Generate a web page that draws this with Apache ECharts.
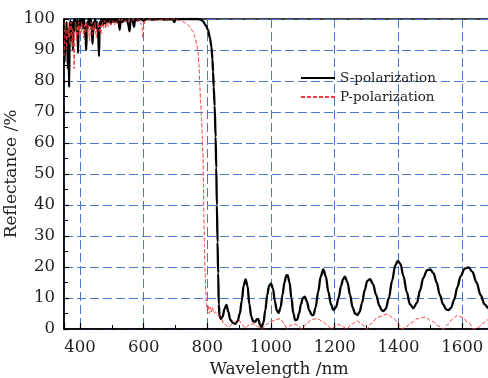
<!DOCTYPE html>
<html><head><meta charset="utf-8">
<script src="https://cdn.jsdelivr.net/npm/echarts@6/dist/echarts.min.js"></script>
<style>html,body{margin:0;padding:0;background:#fff}#c{width:488px;height:378px}</style>
</head><body><div id="c"></div>
<script>
// ---- data ----
const seriesNames = ['S-polarization', 'P-polarization'];
const yTicks = [0,10,20,30,40,50,60,70,80,90,100];

const sWave = [350,352,354,356,358,360,362,364,366,368,370,372,374,376,378,380,382,384,386,388,390,392,394,396,398,400,403,406,409,412,415,418,420,422,425,428,431,434,437,440,442,445,448,451,454,457,460,462,465,468,472,476,480,484,488,492,496,500,505,510,515,520,525,528,533,538,543,548,552,556,559,565,570,573,580,590,600,610,630,650,670,690,697,700,740,770,780,786,795,802,808,813,816,818,820,823,826,828,830,832,834,836,838,842,848,854,860,866,872,880,888,895,902,908,914,920,926,932,938,944,950,956,960,965,970,976,982,988,994,1000,1006,1012,1018,1024,1030,1036,1042,1048,1052,1058,1064,1070,1076,1082,1088,1094,1100,1106,1112,1120,1128,1133,1140,1148,1156,1164,1172,1180,1188,1196,1204,1212,1220,1226,1232,1240,1248,1256,1264,1271,1278,1286,1294,1302,1311,1320,1330,1340,1348,1353,1360,1370,1380,1390,1398,1406,1416,1426,1436,1447,1458,1468,1478,1490,1500,1510,1520,1530,1540,1550,1557,1565,1575,1585,1595,1608,1620,1632,1645,1658,1670,1682,1700];
const sRefl = [98,86,97,92,99,95,84,97,78,96,99.5,93,99,97,90,99.5,96,100,97,99,96,100,89,99,97,100,98,100,97,100,98,93,90,99,97,100,98,100,96,92,99,97,100,97,99,96,88,99,98,100,98,100,98.5,100,99,100,98.5,100,99,100,99,100,96.5,100,99,100,99.5,100,98,96,100,99.5,97.5,100,99.5,100,99.5,100,99.8,100,99.8,100,99,100,100,100,99.8,99.3,98,96.5,94,91,87,83,78,72,62,52,40,28,18,8,4.5,3.2,4,6.5,7.8,5.5,3,2,1.7,2.5,5,9,14,16,14,8,4,2.5,2.3,3.2,3.2,1.5,0.6,2,6,11,14,14.7,13,9,6,5.2,7,11,15,17.3,17.4,15,10,5,2.8,3,5,8,10,10.4,9,6,4.5,4.5,7,12,17,19.2,17,12,8,6.1,7,10,14,16,16.9,15,11,7,5,4.5,5.5,8.5,12.5,15.5,16.1,14.5,11,7.5,6,5.8,6.5,10,15.5,20.5,22,21,17,12,8,6.7,8.5,12.5,16.5,19,19.2,18,15,11,8,6.3,6.1,6.8,9.5,13.5,17,19.5,19.9,18.5,15,11,8,6.7,6];

const pWave = [350,352,354,356,358,360,362,364,366,368,370,372,374,376,378,380,382,384,386,388,390,392,394,396,398,400,403,406,409,412,415,418,421,424,427,430,433,436,439,442,445,448,451,454,457,460,463,466,470,474,478,482,486,490,494,498,503,508,513,518,523,528,533,540,546,552,558,565,572,580,588,594,598,601,605,615,630,650,670,690,705,715,725,735,745,755,762,767,771,774,776,779,782,784,786,788,789,791,793,795,797,800,803,806,809,812,816,820,826,832,840,855,866,880,897,910,918,930,944,958,970,985,1002,1028,1040,1049,1062,1075,1088,1096,1110,1127,1144,1162,1178,1190,1200,1212,1225,1238,1252,1270,1286,1300,1315,1335,1363,1385,1400,1411,1425,1440,1460,1484,1505,1525,1541,1555,1570,1584,1600,1620,1636,1650,1665,1678,1700];
const pRefl = [88,93,99,96,90,97,99,94,98,92,97,99,95,91,97,88,84,95,99,96,93,98,95,99,96,98,95,99,97,94,98,96,99,95,98,93,97,99,95,98,96,99,94,97,99,96,98,95,99,97,99.5,97,99,97.5,99.5,98,99.5,98,99.5,98.5,100,99,100,99,99.8,99,100,99.5,100,99.5,99.8,98,94,98,99.5,100,99.5,100,99.7,100,99.7,99.5,99,98.5,97.5,96,94,91.5,89,85,79,73,68,62,57,47,37,27,18,12.5,8,6,7.5,5,7,5.5,7,5,5.5,4.5,3.8,1.5,0.5,1.8,3,1.5,0.3,1.2,1.7,0.8,0,1.5,2.6,3.3,2,0.3,1.2,1.6,0.8,0,1.5,3,3.4,2.5,1,0,0.8,1.5,0.8,0,1.5,2.6,1.5,0,1.8,3.8,4.8,3.5,1.5,0,0.8,2,3.3,3.8,2.5,1,0,1.5,3.2,4.3,3.8,2,0,0.5,1.8,2.9,4.5];

const pair = (xs, ys) => xs.map((x, i) => [x, ys[i]]);

const font = 'DejaVu Serif';
const gridBlue = '#4a78d0';
const chart = echarts.init(document.getElementById('c'), null, {renderer: 'canvas'});
chart.setOption({
  animation: false,
  backgroundColor: '#fff',
  grid: {left: 64, top: 19, right: -6, bottom: 49, containLabel: false, outerBoundsMode: 'none',
         show: true, borderColor: '#000', borderWidth: 1.5, backgroundColor: 'transparent'},
  legend: {
    orient: 'vertical', left: 295, top: 66, itemWidth: 34, itemHeight: 14, itemGap: 5,
    data: seriesNames,
    itemStyle: {color: 'rgba(0,0,0,0)', borderColor: 'rgba(0,0,0,0)', borderWidth: 0},
    textStyle: {fontFamily: font, fontSize: 13.5, color: '#222'}
  },
  xAxis: {
    type: 'value', min: 350, max: 1700, splitNumber: 7,
    name: 'Wavelength /nm', nameLocation: 'middle', nameGap: 32, nameMoveOverlap: false,
    nameTextStyle: {fontFamily: font, fontSize: 17, color: '#222'},
    axisLine: {show: true, lineStyle: {color: '#000', width: 1.5}},
    axisTick: {inside: true, length: 6, lineStyle: {color: '#000', width: 1.2}},
    minorTick: {show: true, splitNumber: 2, length: 4, lineStyle: {color: '#000', width: 1}},
    axisLabel: {showMinLabel: false, showMaxLabel: false, fontFamily: font, fontSize: 16.5, color: '#222', margin: 10,
                formatter: v => String(v)},
    splitLine: {show: true, lineStyle: {color: gridBlue, width: 1, type: [9, 4]}}
  },
  yAxis: {
    type: 'value', min: yTicks[0], max: yTicks[yTicks.length - 1], interval: 10,
    name: 'Reflectance /%', nameLocation: 'middle', nameGap: 44, nameMoveOverlap: false,
    nameTextStyle: {fontFamily: font, fontSize: 17, color: '#222'},
    axisLine: {show: true, lineStyle: {color: '#000', width: 1.5}},
    axisTick: {inside: true, length: 5, lineStyle: {color: '#000', width: 1.2}},
    minorTick: {show: true, splitNumber: 2, length: 4, lineStyle: {color: '#000', width: 1}},
    axisLabel: {fontFamily: font, fontSize: 16.5, color: '#222', margin: 9, formatter: v => String(v)},
    splitLine: {show: true, lineStyle: {color: gridBlue, width: 1, type: [9, 4]}}
  },
  series: [
    {name: seriesNames[0], type: 'line', data: pair(sWave, sRefl), symbol: 'none', smooth: 0.35, smoothMonotone: 'x',
     lineStyle: {color: '#000', width: 2.3}, itemStyle: {color: '#000'}, z: 3},
    {name: seriesNames[1], type: 'line', data: pair(pWave, pRefl), symbol: 'none', smooth: 0.35, smoothMonotone: 'x',
     lineStyle: {color: '#f03a3a', width: 1, type: [4, 2]}, itemStyle: {color: '#f03a3a'}, z: 4}
  ]
});
</script></body></html>
